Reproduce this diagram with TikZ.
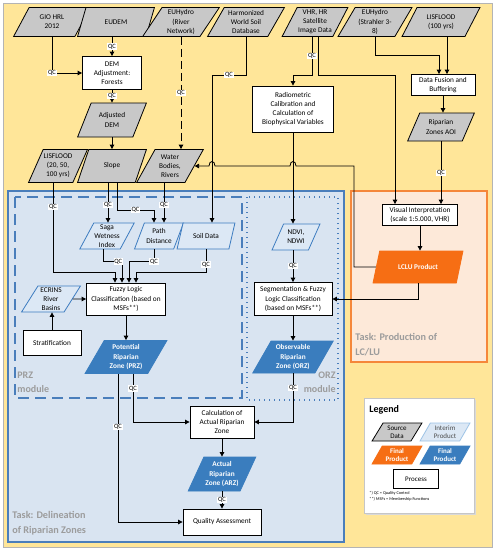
\documentclass[tikz,border=0pt]{standalone}
\usepackage{fontspec}
\setmainfont{Carlito}
\usetikzlibrary{shapes.geometric,arrows.meta}
\definecolor{bgyellow}{HTML}{FFE699}
\definecolor{framegray}{HTML}{B4B4B4}
\definecolor{srcgray}{HTML}{C8C8C8}
\definecolor{taskblue}{HTML}{D9E4F1}
\definecolor{taskline}{HTML}{4A7EBB}
\definecolor{intfill}{HTML}{DCE8F5}
\definecolor{intline}{HTML}{3D7CC0}
\definecolor{intlight}{HTML}{9DC3E6}
\definecolor{finblue}{HTML}{3A7DBE}
\definecolor{taskpeach}{HTML}{FDE9D9}
\definecolor{taskorange}{HTML}{F5873A}
\definecolor{finorange}{HTML}{F66E14}
\definecolor{labelgray}{HTML}{9C9C9C}

\begin{document}
\begin{tikzpicture}[x=1pt,y=-1pt,line width=0.8pt,>={Triangle[length=4.5pt,width=4.5pt]}]
    \tikzstyle{every node}=[font=\fontsize{7.3}{9.2}\selectfont]
    \tikzstyle{data}=[trapezium, trapezium left angle=60, trapezium right angle=120, trapezium stretches=true, draw=black, line width=0.8pt, align=center, inner sep=0.5pt]
    \tikzstyle{source}=[data, fill=srcgray]
    \tikzstyle{interim}=[data, fill=intfill, draw=intline]
    \tikzstyle{final blue}=[data, fill=finblue, draw=finblue, text=white, font=\fontsize{7.3}{9.2}\selectfont\bfseries]
    \tikzstyle{final orange}=[data, fill=finorange, draw=finorange, text=white, font=\fontsize{7.3}{9.2}\selectfont\bfseries]
    \tikzstyle{process}=[rectangle, draw=black, fill=white, line width=0.8pt, align=center, inner sep=1pt]
    \tikzstyle{qc}=[fill=white, inner sep=0.7pt, font=\fontsize{6.5}{7}\selectfont]
    \tikzstyle{tasktext}=[text=labelgray, align=left, inner sep=0pt, font=\fontsize{10.2}{15}\selectfont\bfseries]
    \tikzstyle{modtext}=[text=labelgray, inner sep=0pt, font=\fontsize{10}{14}\selectfont\bfseries]

    % Background frames
    \useasboundingbox (0,0) rectangle (495,550);
    \fill[white] (0,0) rectangle (495,550);
    \draw[fill=bgyellow, draw=framegray, line width=1pt] (3,3) rectangle (492,547);
    \draw[fill=taskblue, draw=taskline, line width=2pt] (8,191) rectangle (344,542);
    \draw[fill=taskpeach, draw=taskorange, line width=2pt] (351,191) rectangle (487,362);
    \draw[draw=taskline, line width=2.2pt, dash pattern=on 11pt off 6pt] (15,197) rectangle (242,398);
    \draw[draw=taskline, line width=1.6pt, dash pattern=on 1.4pt off 3.6pt] (247,197) rectangle (338,400);

    % Source data
    \node[source, minimum width=77, minimum height=29] (gio) at (52,22) {GIO HRL\\2012};
    \node[source, minimum width=77, minimum height=29] (eudem) at (116,22) {EUDEM};
    \node[source, minimum width=77, minimum height=29] (euhydro) at (181,22) {EUHydro\\(River\\Network)};
    \node[source, minimum width=77, minimum height=29] (hwsd) at (246,22) {Harmonized\\World Soil\\Database};
    \node[source, minimum width=66, minimum height=29] (vhr) at (315,22) {VHR, HR\\Satellite\\Image Data};
    \node[source, minimum width=74, minimum height=29] (strahler) at (375,22) {EUHydro\\(Strahler 3-\\8)};
    \node[source, minimum width=78, minimum height=29] (lis100) at (441,22) {LISFLOOD\\(100 yrs)};

    % DEM chain and second row
    \node[process, minimum width=59, minimum height=33] (dem) at (112,73) {DEM\\Adjustment:\\Forests};
    \node[source, minimum width=69, minimum height=34] (adjdem) at (112,120) {Adjusted\\DEM};
    \node[source, minimum width=58, minimum height=33] (lis2) at (58,166) {LISFLOOD\\(20, 50,\\100 yrs)};
    \node[source, minimum width=69, minimum height=33] (slope) at (112,166) {Slope};
    \node[source, minimum width=67, minimum height=33] (water) at (170,166) {Water\\Bodies,\\Rivers};

    % Satellite chain
    \node[process, minimum width=81, minimum height=46] (radio) at (293,109) {Radiometric\\Calibration and\\Calculation of\\Biophysical Variables};
    \node[process, minimum width=64, minimum height=21] (fusion) at (443,85) {Data Fusion and\\Buffering};
    \node[source, minimum width=67, minimum height=28] (aoi) at (441,127) {Riparian\\Zones AOI};
    \node[process, minimum width=75, minimum height=21] (visual) at (420,215) {Visual Interpretation\\(scale 1:5.000, VHR)};
    \node[final orange, minimum width=90, minimum height=32] (lclu) at (418,267) {LCLU Product};

    % PRZ module
    \node[interim, minimum width=49, minimum height=26] (saga) at (107,236) {Saga\\Wetness\\Index};
    \node[interim, minimum width=49, minimum height=26] (path) at (159,236) {Path\\Distance};
    \node[interim, minimum width=58, minimum height=26] (soil) at (206,236) {Soil Data};
    \node[interim, minimum width=59, minimum height=26] (ecrins) at (51,299) {ECRINS\\River\\Basins};
    \node[process, minimum width=58, minimum height=25] (strat) at (52,343) {Stratification};
    \node[process, minimum width=79, minimum height=32] (fuzzy) at (126,299) {Fuzzy Logic\\Classification (based on\\MSFs**)};
    \node[final blue, minimum width=82, minimum height=33] (prz) at (126,357) {Potential\\Riparian\\Zone (PRZ)};

    % ORZ module
    \node[interim, minimum width=48, minimum height=26] (ndvi) at (296,237) {NDVI,\\NDWI};
    \node[process, minimum width=78, minimum height=33] (seg) at (293,299) {Segmentation \& Fuzzy\\Logic Classification\\(based on MSFs**)};
    \node[final blue, minimum width=81, minimum height=32] (orz) at (293,357) {Observable\\Riparian\\Zone (ORZ)};

    % Actual zone
    \node[process, minimum width=64, minimum height=32] (calc) at (222,422) {Calculation of\\Actual Riparian\\Zone};
    \node[final blue, minimum width=68, minimum height=34] (arz) at (222,474) {Actual\\Riparian\\Zone (ARZ)};
    \node[process, minimum width=78, minimum height=26] (qa) at (222,522) {Quality Assessment};

    % Annotate the frames
    \node[modtext, anchor=north west, align=left] (przlbl) at (17,372) {PRZ\\module};
    \node[modtext, anchor=north east, align=right] (orzlbl) at (336,372) {ORZ\\module};
    \node[tasktext, anchor=north west] (delin) at (12,511) {Task: Delineation\\of Riparian Zones};
    \node[tasktext, anchor=north west] (prod) at (355,333) {Task: Production of\\LC/LU};

    % Connectors, top part
    \draw[->] (gio.south) |- node[qc, pos=0.5] {QC} (dem.west);
    \draw[->] (eudem.south -| dem.north) -- node[qc] {QC} (dem.north);
    \draw[->] (dem.south) -- node[qc] {QC} (dem.south |- adjdem.north);
    \draw[->] (adjdem.south) -- (adjdem.south |- slope.north);
    \draw[->, dash pattern=on 8pt off 4pt] (euhydro.south) -- node[qc] {QC} (euhydro.south |- water.north);
    \draw[->] (hwsd.south) -- ++(0,38) -| node[qc, pos=0.25] {QC} ([xshift=6]soil.north);
    \draw[->] ([xshift=-3]vhr.south) -- node[qc] {QC} ++(0,38) -| (radio.north);
    \draw[->] ([xshift=3]vhr.south) -- ++(0,38) -| ([xshift=-25]visual.north);
    \draw[->] (strahler.south) -- ++(0,18) -| ([xshift=-4]fusion.north);
    \draw[->] ([xshift=4]fusion.north |- lis100.south) -- ([xshift=4]fusion.north);
    \draw[->] (fusion.south) -- (fusion.south |- aoi.north);
    \draw[->] (aoi.south) -- node[qc] {QC} (aoi.south |- visual.north);
    \draw[->] (radio.south) -- (radio.south |- ndvi.north);
    \draw[->] (visual.south) -- (visual.south |- lclu.north);
    \draw[->] (lclu.south) |- (seg.east);
    \draw[->] (lclu.west) -- ++(-22,0) |- (296,166) .. controls (296,160) and (290,160) .. (290,166) -- (215,166) .. controls (215,160) and (209,160) .. (209,166) -- (water.east);

    % Connectors, PRZ module
    \draw[->] ([xshift=-4]slope.south) -- node[qc, pos=0.55] {QC} ([xshift=-4]slope.south |- saga.north);
    \draw[->] ([xshift=5]slope.south) -- ++(0,27) -| node[qc, pos=0.25] {QC} ([xshift=-5]path.north);
    \draw[->] ([xshift=5]path.north |- water.south) -- node[qc, pos=0.55] {QC} ([xshift=5]path.north);
    \draw[->] ([xshift=-5]lis2.south) -- node[qc, pos=0.27] {QC} ++(0,89) -| ([xshift=-11]fuzzy.north);
    \draw[->] ([xshift=-4]saga.south) -- ++(0,12) -| node[qc, pos=0.4] {QC} ([xshift=-4]fuzzy.north);
    \draw[->] ([xshift=-5]path.south) -- ++(0,12) node[qc] {QC} -| ([xshift=3]fuzzy.north);
    \draw[->] (soil.south) -- node[qc, pos=0.65] {QC} ++(0,23) -| ([xshift=10]fuzzy.north);
    \draw[->] (ecrins.east) -- (fuzzy.west);
    \draw[->] (strat.north) -- (strat.north |- ecrins.south);
    \draw[->] (fuzzy.south) -- (fuzzy.south |- prz.north);

    % Connectors, ORZ module and results
    \draw[->] (ndvi.south -| seg.north) -- node[qc] {QC} (seg.north);
    \draw[->] (seg.south) -- (seg.south |- orz.north);
    \draw[->] (orz.south) |- node[qc, pos=0.15] {QC} (calc.east);
    \draw[->] ([xshift=7]prz.south) |- node[qc, pos=0.15] {QC} (calc.west);
    \draw[->] ([xshift=-8]prz.south) |- node[qc, pos=0.18] {QC} (qa.west);
    \draw[->] (calc.south) -- (calc.south |- arz.north);
    \draw[->] (arz.south) -- node[qc] {QC} (arz.south |- qa.north);

    % Legend
    \fill[gray!30] (366,400) rectangle (476,515);
    \draw[fill=white, draw=gray!45, line width=0.6pt] (364,398) rectangle (474,513);
    \node[anchor=west, inner sep=0pt, font=\fontsize{10}{12}\selectfont\bfseries] (legtitle) at (369,410) {Legend};
    \tikzstyle{legend item}=[minimum width=50, minimum height=18, font=\fontsize{7}{8.3}\selectfont]
    \node[source, legend item] (lsrc) at (397,432) {Source\\Data};
    \node[interim, legend item, draw=intlight, text=black!70] (lint) at (445,432) {Interim\\Product};
    \node[final orange, legend item, font=\fontsize{7}{8.3}\selectfont\bfseries] (lfino) at (397,455) {Final\\Product};
    \node[final blue, legend item, font=\fontsize{7}{8.3}\selectfont\bfseries] (lfinb) at (445,455) {Final\\Product};
    \node[process, minimum width=45, minimum height=19, font=\fontsize{7}{8.3}\selectfont] (lproc) at (416,479) {Process};
    \node[anchor=north west, align=left, inner sep=0pt, font=\fontsize{4.3}{6}\selectfont] (notes) at (369,491) {*) QC = Quality Control\\**) MSFs = Membership Functions};
\end{tikzpicture}
\end{document}
